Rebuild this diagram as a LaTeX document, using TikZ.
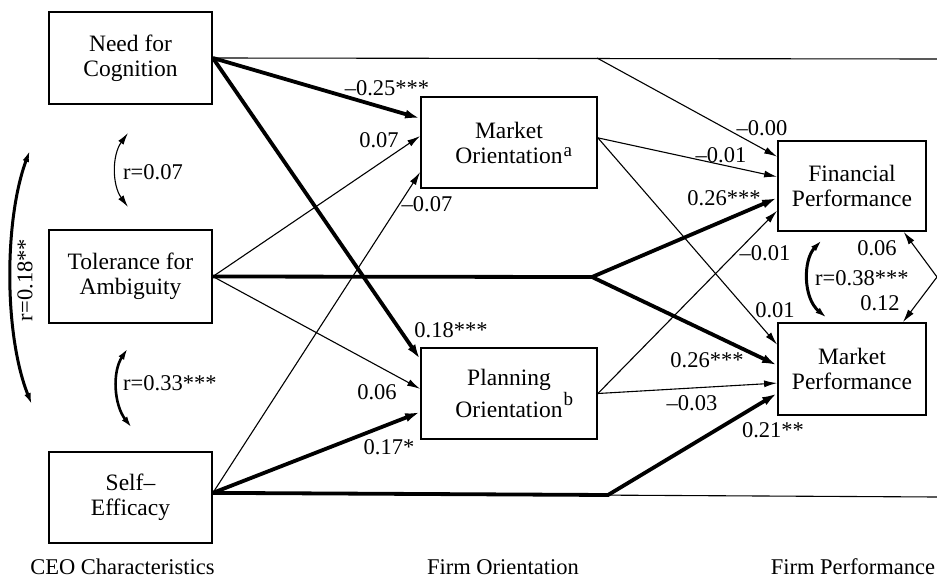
\documentclass[tikz,border=0pt]{standalone}
\usepackage{fontspec}
\setmainfont{Liberation Serif}
\usetikzlibrary{arrows.meta,calc}
\begin{document}
\begin{tikzpicture}[x=1pt,y=-1pt,
  box/.style={draw,line width=1.8pt,inner sep=0pt,align=center,font=\fontsize{23.5}{25}\selectfont},
  lab/.style={font=\fontsize{22.5}{24}\selectfont,inner sep=0pt},
  thinline/.style={line width=1.1pt},
  thickline/.style={line width=3.8pt},
  thinarr/.style={thinline,-{Latex[length=13pt,width=7pt]}},
  thickarr/.style={thickline,-{Latex[length=15pt,width=9pt]}},
  corr/.style={{Latex[length=12pt,width=6.5pt]}-{Latex[length=12pt,width=6.5pt]}}]
\useasboundingbox (0,0) rectangle (937,581);
% boxes
\node[box,minimum width=163pt,minimum height=92pt] (nfc) at (130.5,58) {Need for\\Cognition};
\node[box,minimum width=163pt,minimum height=93pt] (toa) at (130.5,276.5) {Tolerance for\\Ambiguity};
\node[box,minimum width=163pt,minimum height=91pt] (se) at (130.5,497.5) {Self--\\Efficacy};
\node[box,minimum width=176pt,minimum height=91pt] (mo) at (509,142.5) {Market\\Orientation\rlap{\kern1pt\raisebox{7pt}{\fontsize{19}{19}\selectfont a}}};
\node[box,minimum width=176pt,minimum height=91pt] (po) at (509,393.5) {Planning\\Orientation\rlap{\kern1pt\raisebox{12pt}{\fontsize{19}{19}\selectfont b}}};
\node[box,minimum width=148pt,minimum height=90pt] (fp) at (852,186) {Financial\\Performance};
\node[box,minimum width=148pt,minimum height=92pt] (mp) at (852,369) {Market\\Performance};
% helper coordinates
\coordinate (ses) at ($(se.north east)!0.45!(se.south east)$);
\coordinate (moe) at ($(mo.north east)!0.45!(mo.south east)$);
\coordinate (tb) at (597,58);
\coordinate (te) at (937,59);
\coordinate (ab) at (592,277);
\coordinate (sb) at (608,495);
\coordinate (be) at (937,497);
\coordinate (rv) at (937,277);
% CEO -> firm orientation
\draw[thickarr] (nfc.east) -- ($(mo.north west)!0.24!(mo.south west)$);
\draw[thickarr] (nfc.east) -- ($(po.north west)!0.13!(po.south west)$);
\draw[thinarr] (toa.east) -- ($(mo.north west)!0.43!(mo.south west)$);
\draw[thinarr] (toa.east) -- ($(po.north west)!0.45!(po.south west)$);
\draw[thinarr] (ses) -- ($(mo.north west)!0.82!(mo.south west)$);
\draw[thickarr] (ses) -- ($(po.north west)!0.70!(po.south west)$);
% top line
\draw[thinline] (nfc.east) -- (te);
\draw[thinarr] (tb) -- ($(fp.north west)!0.18!(fp.south west)$);
% bottom line
\draw[thinline] (ses) -- (be);
\draw[thickarr] (ses) -- (sb) -- ($(mp.north west)!0.76!(mp.south west)$);
% tolerance branch
\draw[thickarr] (toa.east) -- (ab) -- ($(fp.north west)!0.63!(fp.south west)$);
\draw[thickarr] (ab) -- ($(mp.north west)!0.46!(mp.south west)$);
% firm orientation -> performance
\draw[thinarr] (moe) -- ($(fp.north west)!0.40!(fp.south west)$);
\draw[thinarr] (moe) -- ($(mp.north west)!0.24!(mp.south west)$);
\draw[thinarr] (po.east) -- ($(fp.north west)!0.77!(fp.south west)$);
\draw[thinarr] (po.east) -- ($(mp.north west)!0.65!(mp.south west)$);
% right side
\draw[thinarr] (rv) -- ($(fp.south west)!0.845!(fp.south east)$);
\draw[thinarr] (rv) -- ($(mp.north west)!0.84!(mp.north east)$);
% correlations
\coordinate (c1a) at (128,133); \coordinate (c1b) at (128,207);
\draw[corr,line width=1.1pt] (c1a) .. controls (112,155) and (112,185) .. (c1b);
\coordinate (c2a) at (128,348); \coordinate (c2b) at (132,428);
\draw[corr,line width=2.6pt] (c2a) .. controls (112,372) and (114,405) .. (c2b);
\coordinate (c3a) at (30,150); \coordinate (c3b) at (32,405);
\draw[corr,line width=3pt] (c3a) .. controls (4,220) and (4,335) .. (c3b);
\coordinate (c4a) at (822,240); \coordinate (c4b) at (827,318);
\draw[corr,line width=3pt] (c4a) .. controls (803,260) and (803,298) .. (c4b);
% labels
\node[lab] (l1) at (387,88) {--0.25***};
\node[lab] (l2) at (379,140) {0.07};
\node[lab] (l3) at (427,204) {--0.07};
\node[lab] (l4) at (451,330) {0.18***};
\node[lab] (l5) at (377,392) {0.06};
\node[lab] (l6) at (389,447) {0.17*};
\node[lab] (l7) at (762,128) {--0.00};
\node[lab] (l8) at (721,155) {--0.01};
\node[lab] (l9) at (724,198) {0.26***};
\node[lab] (l10) at (765,253) {--0.01};
\node[lab] (l11) at (775,310) {0.01};
\node[lab] (l12) at (707,360) {0.26***};
\node[lab] (l13) at (692,403) {--0.03};
\node[lab] (l14) at (773,430) {0.21**};
\node[lab] (l15) at (877,248) {0.06};
\node[lab] (l16) at (880,303) {0.12};
\node[lab,anchor=west] (r38) at (815,278) {r=0.38***};
\node[lab,anchor=west] (r07) at (123,172) {r=0.07};
\node[lab,anchor=west] (r33) at (123,383) {r=0.33***};
\node[lab,rotate=90] (r18) at (25,280) {r=0.18**};
% captions
\node[lab,anchor=base] (cap1) at (122.5,574) {CEO Characteristics};
\node[lab,anchor=base] (cap2) at (503,574) {Firm Orientation};
\node[lab,anchor=base] (cap3) at (853,574) {Firm Performance};
\end{tikzpicture}
\end{document}
